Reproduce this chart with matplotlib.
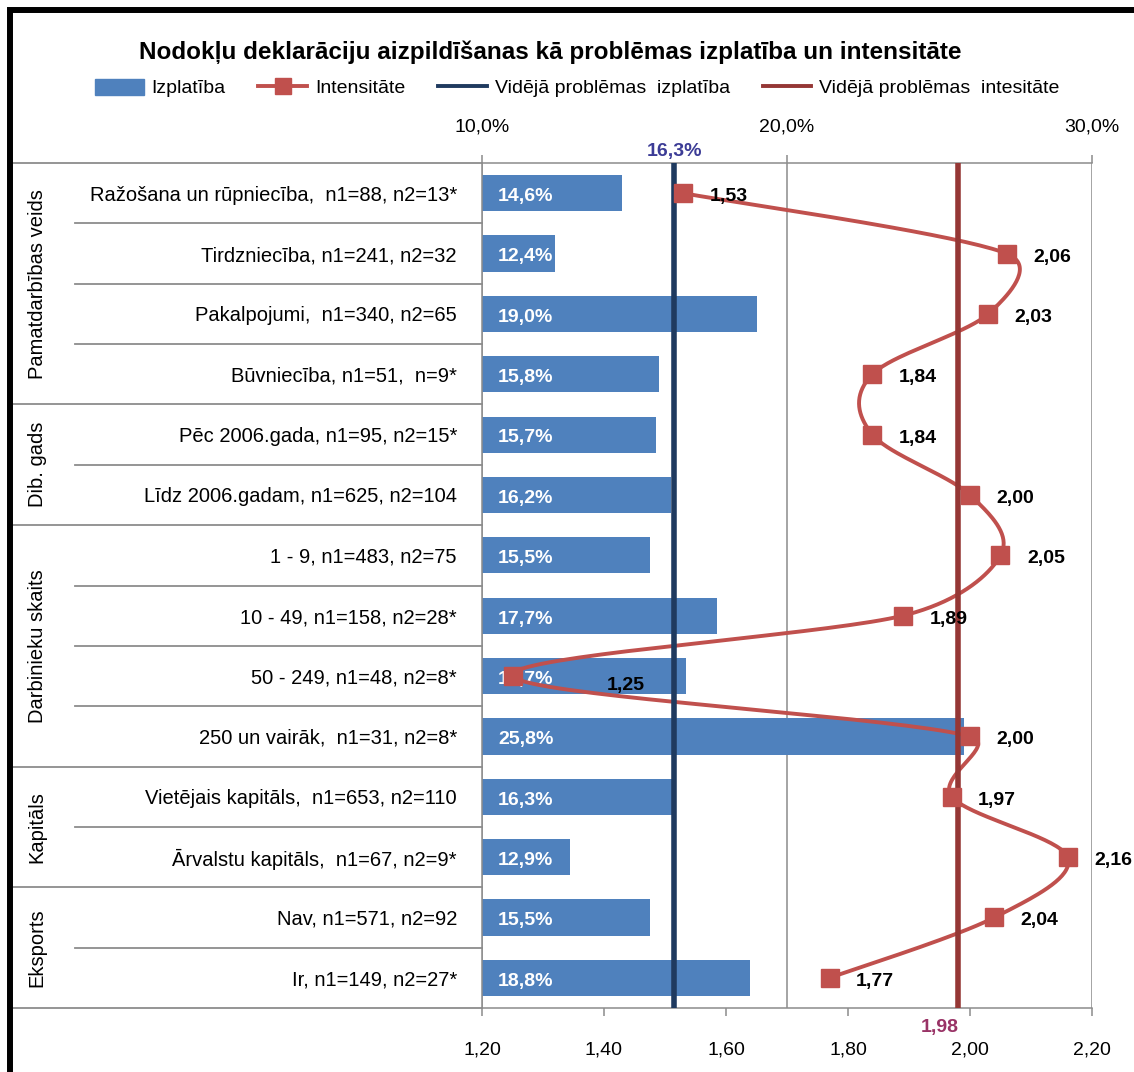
import numpy as np
import matplotlib
matplotlib.use('Agg')
import matplotlib.pyplot as plt
import matplotlib.transforms as mtransforms
from matplotlib.patches import Rectangle, Patch
from matplotlib.lines import Line2D

plt.rcParams['font.family'] = ['Liberation Sans', 'DejaVu Sans']

# --- dati ---
kategorijas = [
    "Ražošana un rūpniecība,  n1=88, n2=13*",
    "Tirdzniecība, n1=241, n2=32",
    "Pakalpojumi,  n1=340, n2=65",
    "Būvniecība, n1=51,  n=9*",
    "Pēc 2006.gada, n1=95, n2=15*",
    "Līdz 2006.gadam, n1=625, n2=104",
    "1 - 9, n1=483, n2=75",
    "10 - 49, n1=158, n2=28*",
    "50 - 249, n1=48, n2=8*",
    "250 un vairāk,  n1=31, n2=8*",
    "Vietējais kapitāls,  n1=653, n2=110",
    "Ārvalstu kapitāls,  n1=67, n2=9*",
    "Nav, n1=571, n2=92",
    "Ir, n1=149, n2=27*",
]
izplatiba = [14.6, 12.4, 19.0, 15.8, 15.7, 16.2, 15.5, 17.7, 16.7, 25.8, 16.3, 12.9, 15.5, 18.8]
intensitate = [1.53, 2.06, 2.03, 1.84, 1.84, 2.00, 2.05, 1.89, 1.25, 2.00, 1.97, 2.16, 2.04, 1.77]
grupas = ["Pamatdarbības veids", "Dib. gads", "Darbinieku skaits", "Kapitāls", "Eksports"]
grupu_izmeri = [4, 2, 4, 2, 2]
videja_izplatiba = 16.3
videja_intensitate = 1.98
proc_ticks = [10, 20, 30]
int_ticks = [1.2, 1.4, 1.6, 1.8, 2.0, 2.2]

zils = '#4F81BD'
sarkans = '#C0504D'
tumsi_zils = '#1F3A5F'
tumsi_sarkans = '#953735'
pelekais = '#8C8C8C'

W, H = 1134, 1072
fig = plt.figure(figsize=(W / 100, H / 100), dpi=100)
ax = fig.add_axes([482 / W, 1 - 1008 / H, 610 / W, 845 / H])
ax2 = ax.twiny()

n = len(kategorijas)
ypos = np.arange(n)
ax.set_ylim(n - 0.5, -0.5)
ax.set_xlim(10, 30)
ax2.set_xlim(1.2, 2.2)
ax.set_yticks([])

# stabiņi
ax.barh(ypos, [v - 10 for v in izplatiba], left=10, height=0.6, color=zils, zorder=2)
for i, v in enumerate(izplatiba):
    ax.annotate(f'{v:.1f}%'.replace('.', ','), xy=(10, i), xytext=(11.5, -1),
                textcoords='offset points', ha='left', va='center_baseline',
                color='white', fontsize=14, fontweight='bold', zorder=3)

# asis
ax.xaxis.set_ticks_position('top')
ax.set_xticks(proc_ticks)
ax.set_xticklabels([f'{t:.1f}%'.replace('.', ',') for t in proc_ticks])
ax.tick_params(axis='x', length=6, width=1.1, color=pelekais, labelsize=14, pad=14)
ax.grid(axis='x', color=pelekais, lw=1.1, zorder=1)
for s in ['left', 'top', 'bottom']:
    ax.spines[s].set_color(pelekais)
    ax.spines[s].set_linewidth(1.1)
ax.spines['right'].set_visible(False)

ax2.xaxis.set_ticks_position('bottom')
ax2.xaxis.set_label_position('bottom')
ax2.set_xticks(int_ticks)
ax2.set_xticklabels([f'{t:.2f}'.replace('.', ',') for t in int_ticks])
ax2.tick_params(axis='x', length=6, width=1.1, color=pelekais, labelsize=14, pad=18)
for s in ax2.spines.values():
    s.set_visible(False)

# gludināta līkne (Excel stila Bezier) ekrāna koordinātēs
fig.canvas.draw()
P = ax2.transData.transform(np.column_stack([intensitate, ypos]))
Pe = np.vstack([P[0], P, P[-1]])


def kontrole(k, seg_len):
    T = (Pe[k + 1] - Pe[k - 1]) / 6
    L = np.hypot(*T)
    if L > 0.5 * seg_len:
        T = T * 0.5 * seg_len / L
    return T


curve = []
t = np.linspace(0, 1, 40)[:, None]
for k in range(1, len(Pe) - 2):
    p0, p3 = Pe[k], Pe[k + 1]
    seg_len = np.hypot(*(p3 - p0))
    c1 = p0 + kontrole(k, seg_len)
    c2 = p3 - kontrole(k + 1, seg_len)
    seg = (1 - t) ** 3 * p0 + 3 * (1 - t) ** 2 * t * c1 + 3 * (1 - t) * t ** 2 * c2 + t ** 3 * p3
    curve.append(seg)
curve = ax2.transData.inverted().transform(np.vstack(curve))
ax2.plot(curve[:, 0], curve[:, 1], color=sarkans, lw=2.8, zorder=2, solid_capstyle='round')

# vidējās līnijas
tr_izpl = mtransforms.blended_transform_factory(ax.transData, ax.transAxes)
ax2.plot([videja_izplatiba, videja_izplatiba], [0, 1], transform=tr_izpl,
         color=tumsi_zils, lw=4, zorder=3)
ax2.axvline(videja_intensitate, color=tumsi_sarkans, lw=4, zorder=3)
ax2.text(videja_izplatiba, 1.004, f'{videja_izplatiba:.1f}%'.replace('.', ','), transform=tr_izpl,
         ha='center', va='bottom', color='#3C3C96', fontsize=14, fontweight='bold')
ax2.annotate(f'{videja_intensitate:.2f}'.replace('.', ','), xy=(videja_intensitate, 0),
             xycoords=ax2.get_xaxis_transform(), xytext=(-13, -14), textcoords='offset points',
             ha='center', va='center', color='#993366', fontsize=14, fontweight='bold')

# marķieri un vērtības
ax2.plot(intensitate, ypos, ls='none', marker='s', ms=13, color=sarkans, mec=sarkans, zorder=4)
for i, v in enumerate(intensitate):
    dx, dy = (19, -2.5) if i != 8 else (68, -7)
    ax2.annotate(f'{v:.2f}'.replace('.', ','), xy=(v, i), xytext=(dx, dy),
                 textcoords='offset points', ha='left', va='center',
                 fontsize=14, fontweight='bold', color='black', zorder=5)

# kreisās puses uzraksti un līnijas
tr_lab = mtransforms.blended_transform_factory(ax.transAxes, ax.transData)
for i, lab in enumerate(kategorijas):
    ax.text(-0.041, i, lab, transform=tr_lab, ha='right', va='center_baseline', fontsize=14.5)
robezas = np.cumsum([0] + grupu_izmeri)
for k in range(n + 1):
    x0 = -0.774 if k in robezas else -0.667
    ax.plot([x0, 0], [k - 0.5, k - 0.5], transform=tr_lab, color=pelekais, lw=1.3, clip_on=False)
for g, nm in enumerate(grupas):
    yc = (robezas[g] + robezas[g + 1] - 1) / 2
    ax.text(-0.7295, yc, nm, transform=tr_lab, rotation=90, ha='center', va='center', fontsize=14.5)

# virsraksts un leģenda
fig.text(0.485, 1 - 52 / H, 'Nodokļu deklarāciju aizpildīšanas kā problēmas izplatība un intensitāte',
         ha='center', va='center', fontsize=17.5, fontweight='bold')
rokturi = [
    Patch(color=zils),
    Line2D([], [], color=sarkans, lw=2.8, marker='s', ms=11),
    Line2D([], [], color=tumsi_zils, lw=2.8),
    Line2D([], [], color=tumsi_sarkans, lw=2.8),
]
nosaukumi = ['Izplatība', 'Intensitāte', 'Vidējā problēmas  izplatība', 'Vidējā problēmas  intesitāte']
fig.legend(rokturi, nosaukumi, ncol=4, loc='center', bbox_to_anchor=(0.509, 1 - 88 / H),
           frameon=False, fontsize=14, handlelength=2.5, handleheight=0.9,
           handletextpad=0.4, columnspacing=1.7)

# rāmis
fig.patches.append(Rectangle((9.5 / W, -0.1), 1.2, 1.1 - 10.3 / H, transform=fig.transFigure,
                             fill=False, ec='black', lw=4.3))

fig.savefig('out.png', dpi=100)
